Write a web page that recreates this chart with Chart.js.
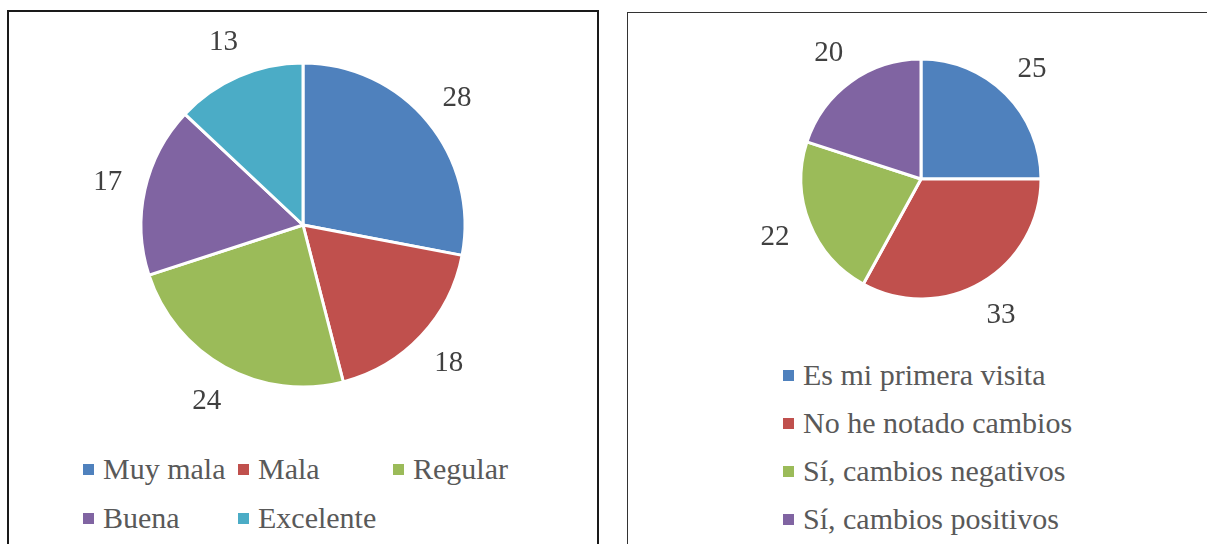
<!DOCTYPE html>
<html>
<head>
<meta charset="utf-8">
<script src="https://cdn.jsdelivr.net/npm/chart.js@4.4.0/dist/chart.umd.min.js"></script>
<style>
  body { margin: 0; background: #fff; width: 1207px; height: 544px; overflow: hidden; position: relative; }
  .panel { position: absolute; border: 2px solid #1a1a1a; box-sizing: content-box; }
  #p1 { left: 7px; top: 10px; width: 588px; height: 560px; }
  #p2 { left: 627px; top: 12px; width: 588px; height: 560px; border-color: #333; border-width: 1.5px; }
  canvas { position: absolute; left: 0; top: 0; }
  .leg { position: absolute; display: flex; align-items: center; height: 34px; white-space: nowrap;
         font-family: "Liberation Serif", "Times New Roman", serif; font-size: 30px; color: #595959; }
  .leg i { display: inline-block; width: 11px; height: 11px; margin-right: 9px; }
</style>
</head>
<body>
<div class="panel" id="p1"><canvas id="chart1" width="588" height="426"></canvas></div>
<div class="panel" id="p2"><canvas id="chart2" width="586" height="332"></canvas></div>
<div id="legends"></div>
<script>
// chart 1
var labels1 = ["Muy mala", "Mala", "Regular", "Buena", "Excelente"];
var values1 = [28, 18, 24, 17, 13];
var colors1 = ["#4F81BD", "#C0504D", "#9BBB59", "#8064A2", "#4BACC6"];

// chart 2
var labels2 = ["Es mi primera visita", "No he notado cambios", "Sí, cambios negativos", "Sí, cambios positivos"];
var values2 = [25, 33, 22, 20];
var colors2 = ["#4F81BD", "#C0504D", "#9BBB59", "#8064A2"];

// draws the value just outside each slice
var outsideLabels = {
  id: "outsideLabels",
  afterDatasetsDraw: function (chart, args, opts) {
    var ctx = chart.ctx;
    var meta = chart.getDatasetMeta(0);
    var data = chart.data.datasets[0].data;
    ctx.save();
    ctx.font = "29px 'Liberation Serif', 'Times New Roman', serif";
    ctx.fillStyle = "#404040";
    ctx.textAlign = "center";
    ctx.textBaseline = "middle";
    meta.data.forEach(function (arc, i) {
      var p = arc.getProps(["x", "y", "startAngle", "endAngle", "outerRadius"], true);
      var mid = (p.startAngle + p.endAngle) / 2;
      var r = p.outerRadius + opts.offset;
      ctx.fillText(String(data[i]), p.x + Math.cos(mid) * r, p.y + Math.sin(mid) * r + 1);
    });
    ctx.restore();
  }
};

function makePie(id, labels, values, colors, radius, offset) {
  return new Chart(document.getElementById(id).getContext("2d"), {
    type: "pie",
    data: {
      labels: labels,
      datasets: [{
        data: values,
        backgroundColor: colors,
        borderColor: "#ffffff",
        borderWidth: 3,
        radius: radius
      }]
    },
    options: {
      responsive: false,
      animation: false,
      layout: { padding: 0 },
      plugins: {
        legend: { display: false },
        tooltip: { enabled: false },
        outsideLabels: { offset: offset }
      }
    },
    plugins: [outsideLabels]
  });
}

makePie("chart1", labels1, values1, colors1, 162, 38);
makePie("chart2", labels2, values2, colors2, 120, 37);

// html legends
function addLegend(labels, colors, positions) {
  var box = document.getElementById("legends");
  labels.forEach(function (txt, i) {
    var d = document.createElement("div");
    d.className = "leg";
    d.style.left = positions[i][0] + "px";
    d.style.top = (positions[i][1] - 17) + "px";
    d.innerHTML = '<i style="background:' + colors[i] + '"></i>';
    d.appendChild(document.createTextNode(txt));
    box.appendChild(d);
  });
}

addLegend(labels1, colors1, [[83, 469], [238, 469], [393, 469], [83, 518], [238, 518]]);
addLegend(labels2, colors2, [[783, 375], [783, 423], [783, 471], [783, 519]]);
</script>
</body>
</html>
